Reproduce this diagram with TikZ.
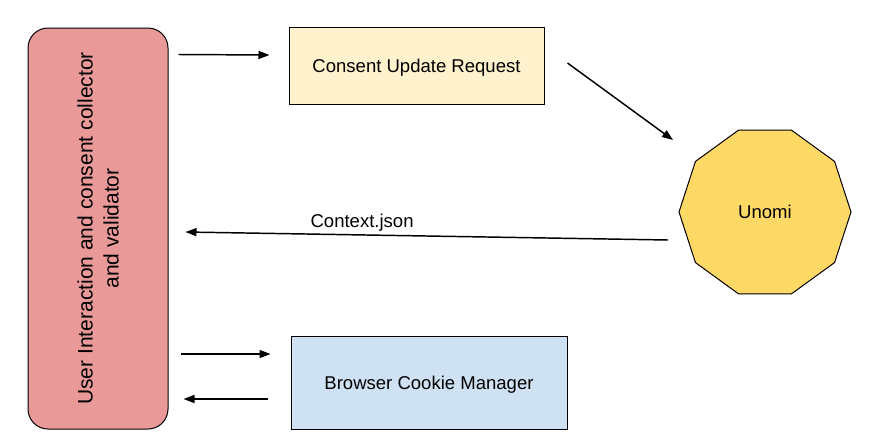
\documentclass[tikz,border=0pt]{standalone}
\usepackage{fontspec}
\setmainfont{Liberation Sans}
\usetikzlibrary{shapes.geometric,arrows.meta}

\definecolor{uired}{HTML}{EA9999}
\definecolor{requestyellow}{HTML}{FFF2CC}
\definecolor{unomigold}{HTML}{FFD966}
\definecolor{cookieblue}{HTML}{CFE2F3}

\begin{document}
\begin{tikzpicture}[x=0.75pt, y=-0.75pt,
  font=\fontsize{13.9}{16.7}\selectfont,
  box/.style={draw, line width=0.75pt, inner sep=0pt, text depth=0pt},
  flow/.style={line width=1.1pt, -{Triangle[length=8.25pt,width=6pt]}}]
  \useasboundingbox (0,0) rectangle (869,444);

  \node[box, fill=uired, rounded corners=15pt,
        minimum width=105pt, minimum height=300.75pt] (ui) at (98, 228.5) {};
  \node[rotate=90, align=center, font=\fontsize{15.75}{19.5}\selectfont]
        (uitext) at (ui.center) {User Interaction and consent collector\\and validator};

  \node[box, fill=requestyellow, minimum width=191.25pt, minimum height=57.75pt]
        (req) at (416.5, 65.5) {Consent Update Request};
  \node[box, fill=unomigold, regular polygon, regular polygon sides=10,
        minimum size=129pt] (uno) at (765, 212) {Unomi};
  \node[box, fill=cookieblue, minimum width=207pt, minimum height=69.75pt]
        (bro) at (429, 382.5) {Browser Cookie Manager};

  \draw[flow] ([shift={(10,27)}]ui.north east) -- ([shift={(-19,-10.5)}]req.west);
  \draw[flow] ([shift={(23,-2.5)}]req.east) -- ([shift={(-92,-72)}]uno.center);
  \draw[flow] ([shift={(-97,28)}]uno.center) --
        node[pos=0.634, anchor=base, yshift=5.25pt] (ctx) {Context.json}
        ([shift={(17,3.5)}]ui.east);

  \draw[flow] ([shift={(12,125.5)}]ui.east) -- ([shift={(-20,-28.5)}]bro.west);
  \draw[flow] ([shift={(-23,16.5)}]bro.west) -- ([shift={(15,170.5)}]ui.east);

\end{tikzpicture}
\end{document}
